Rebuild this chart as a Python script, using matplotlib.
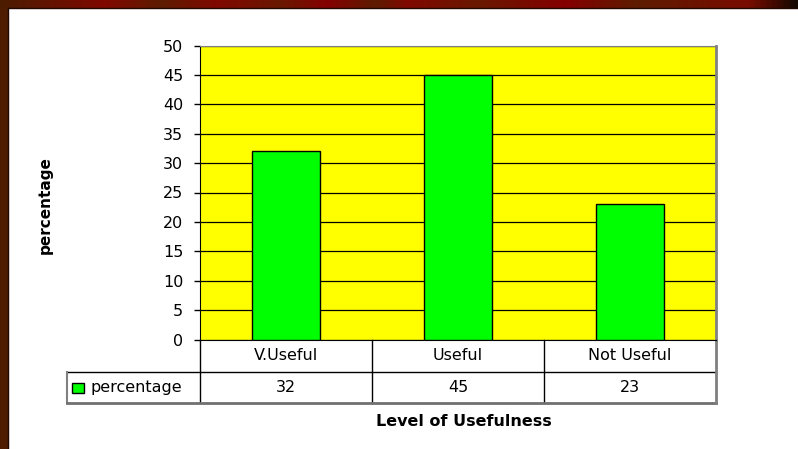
import numpy as np
import matplotlib.pyplot as plt
from matplotlib.patches import Rectangle
from matplotlib.colors import LinearSegmentedColormap

categories = ['V.Useful', 'Useful', 'Not Useful']
values = [32, 45, 23]
series_name = 'percentage'
y_ticks = [0, 5, 10, 15, 20, 25, 30, 35, 40, 45, 50]

W, H = 798, 449
fig = plt.figure(figsize=(W / 100, H / 100), dpi=100)
fig.patch.set_facecolor('white')

# dark red frame: streaky gradient on top, plain brown on the left
stripe = LinearSegmentedColormap.from_list('stripe', [
    (0.00, '#4c1c00'), (0.13, '#800800'), (0.20, '#5e1c00'), (0.27, '#800800'),
    (0.35, '#6a1800'), (0.41, '#850000'), (0.47, '#5e1c00'), (0.51, '#800800'),
    (0.60, '#6a1800'), (0.71, '#850000'), (0.80, '#5e1c00'), (0.94, '#7a0c00'),
    (1.00, '#150800')])
top_ax = fig.add_axes([0, 1 - 8 / H, 1, 8 / H])
top_ax.imshow(np.linspace(0, 1, 400)[None, :], aspect='auto', cmap=stripe)
top_ax.axis('off')
fig.patches.append(Rectangle((0, 0), 8 / W, 1 - 8 / H, transform=fig.transFigure,
                             facecolor='#4e1c00', edgecolor='none', zorder=0))
fig.lines.append(plt.Line2D([8 / W, 8 / W], [0, 1 - 8 / H], transform=fig.transFigure,
                            color='#200800', linewidth=1))
fig.lines.append(plt.Line2D([8 / W, 1], [1 - 8 / H, 1 - 8 / H], transform=fig.transFigure,
                            color='#200800', linewidth=1))

# plot area in pixels
left, right, top, bottom = 200, 716, 45.5, 339.5
ax = fig.add_axes([left / W, (H - bottom) / H, (right - left) / W, (bottom - top) / H])
ax.set_facecolor('#ffff00')

x = list(range(len(categories)))
ax.bar(x, values, width=0.4, color='#00ff00', edgecolor='black', linewidth=1, zorder=3)

ax.set_xlim(-0.5, 2.5)
ax.set_ylim(0, 50)
ax.set_yticks(y_ticks)
ax.yaxis.grid(True, color='black', linewidth=0.9, zorder=1)
ax.set_axisbelow(True)
ax.set_xticks([])
ax.tick_params(axis='y', direction='out', length=4, width=1, pad=8,
               labelsize=11.5, colors='black')
for lbl in ax.get_yticklabels():
    lbl.set_fontfamily('DejaVu Sans')

ax.spines['left'].set_color('black')
ax.spines['bottom'].set_color('black')
ax.spines['top'].set_color('#808080')
ax.spines['right'].set_color('#808080')
ax.spines['right'].set_linewidth(2)

# data table under the axis
px = bottom - top
col = (right - left) / 3
row1 = -(372.3 - bottom) / px
row2 = -(403 - bottom) / px
leg_left = -0.5 - (left - 66.7) / col
trans = ax.get_xaxis_transform()
kw = dict(transform=trans, clip_on=False)

for b in [-0.5, 0.5, 1.5]:
    ax.plot([b, b], [0, row2], color='black', linewidth=1, **kw)
ax.plot([leg_left, 2.5], [row1, row1], color='black', linewidth=1, **kw)
ax.plot([leg_left, leg_left], [row1, row2], color='#808080', linewidth=1.5, **kw)
ax.plot([leg_left, 2.5], [row2, row2], color='#707070', linewidth=2, **kw)
ax.plot([2.5, 2.5], [0, row2], color='#808080', linewidth=2, **kw)

for i, (c, v) in enumerate(zip(categories, values)):
    ax.text(i, (0 + row1) / 2, c, ha='center', va='center', fontsize=11.5,
            family='DejaVu Sans', transform=trans, clip_on=False)
    ax.text(i, (row1 + row2) / 2, str(v), ha='center', va='center', fontsize=11.5,
            family='DejaVu Sans', transform=trans, clip_on=False)

# legend key in table
sq_w = 12 / col
sq_h = 10 / px
sq_x = -0.5 - (left - 72) / col
ax.add_patch(Rectangle((sq_x, (row1 + row2) / 2 - sq_h / 2), sq_w, sq_h, transform=trans,
                       facecolor='#00ff00', edgecolor='black', linewidth=1, clip_on=False))
ax.text(-0.5 - (left - 91) / col, (row1 + row2) / 2, series_name,
        ha='left', va='center', fontsize=11.5, family='DejaVu Sans',
        transform=trans, clip_on=False)

# axis titles
fig.text(45 / W, 1 - 205 / H, 'percentage', rotation=90, ha='center', va='center',
         fontsize=11, fontweight='bold', family='DejaVu Sans')
fig.text(464 / W, 1 - 421 / H, 'Level of Usefulness', ha='center', va='center',
         fontsize=11.5, fontweight='bold', family='DejaVu Sans')

fig.savefig('out.png', dpi=100)
